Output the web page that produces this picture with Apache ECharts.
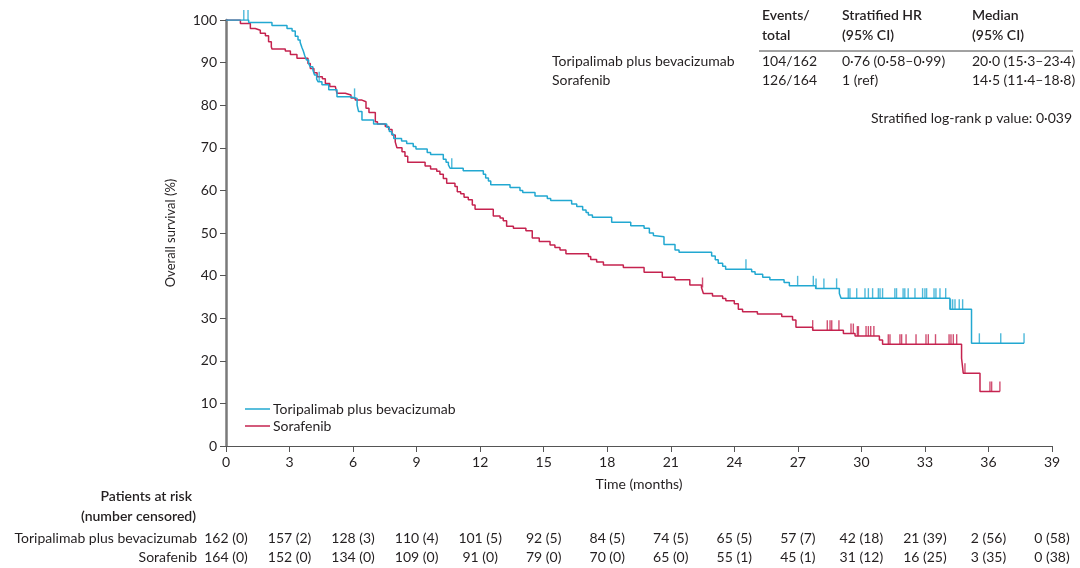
<!DOCTYPE html>
<html>
<head>
<meta charset="utf-8">
<script src="https://cdn.jsdelivr.net/npm/echarts@6/dist/echarts.min.js"></script>
<style>
html,body{margin:0;padding:0;background:#fff;}
#c{width:1080px;height:568px;}
</style>
</head>
<body>
<div id="c"></div>
<script>
// ---------- data ----------
const seriesNames = ['Toripalimab plus bevacizumab', 'Sorafenib'];

const toriCurve = [
  [0,100],[1.07,99.4],[2.17,98.7],[2.88,98.0],[3.12,97.4],[3.27,96.2],[3.40,95.3],[3.50,94.8],
  [3.58,93.6],[3.65,92.7],[3.72,91.6],[3.80,90.6],[3.90,89.8],[3.98,89.0],[4.10,88.3],[4.18,87.1],
  [4.28,86.1],[4.35,85.5],[4.53,84.8],[4.85,83.6],[5.24,82.0],[5.87,81.6],[6.19,80.0],[6.26,78.5],
  [6.42,76.5],[6.97,75.6],[7.59,74.8],[7.71,73.8],[7.82,73.2],[7.92,72.2],[8.29,71.6],[8.53,71.0],
  [8.84,70.3],[8.97,69.7],[9.50,68.9],[9.66,68.4],[10.26,67.3],[10.39,66.6],[10.50,66.0],[10.58,65.2],
  [11.20,64.6],[12.15,63.8],[12.26,62.9],[12.39,62.2],[12.50,61.3],[13.41,60.7],[13.88,60.0],[14.01,59.5],
  [14.59,58.7],[15.17,58.1],[15.33,57.6],[16.32,56.8],[16.56,56.2],[16.84,55.4],[17.00,54.8],[17.11,54.2],
  [17.30,53.7],[18.21,52.5],[19.11,51.7],[19.74,51.1],[19.99,50.0],[20.18,49.4],[20.21,49.1],[20.68,47.3],
  [21.20,46.0],[21.39,45.5],[22.93,44.6],[23.10,43.7],[23.24,42.9],[23.45,42.2],[23.59,41.5],[24.82,40.9],
  [24.98,40.3],[25.34,39.6],[25.68,39.0],[26.35,38.4],[26.60,37.6],[27.84,37.0],[28.96,35.8],[29.04,34.7],
  [34.18,32.1],[35.20,24.1],[37.68,24.1]
];
const toriCensor = [
  0.84,1.04,4.40,6.07,10.66,24.55,26.99,27.73,27.86,28.23,28.83,
  29.38,29.46,29.78,30.17,30.33,30.53,30.80,30.88,31.00,31.58,31.66,31.97,32.05,32.21,32.53,32.89,
  33.00,33.08,33.43,33.52,33.71,33.98,34.21,34.31,34.42,34.62,34.78,35.57,36.58,37.68
];

const soraCurve = [
  [0,100],[0.68,99.2],[1.15,98.0],[1.38,97.6],[1.62,96.9],[1.86,96.3],[2.01,94.9],[2.14,93.7],
  [2.17,93.2],[2.80,92.7],[3.04,91.9],[3.35,91.0],[3.87,89.8],[3.98,88.6],[4.15,87.6],[4.30,86.7],
  [4.55,86.2],[4.69,85.1],[4.90,84.4],[5.16,84.0],[5.24,82.8],[5.63,82.4],[5.90,81.7],[6.10,81.2],
  [6.42,80.8],[6.61,79.3],[6.75,78.3],[7.05,76.1],[7.15,75.6],[7.52,75.0],[7.68,74.3],[7.84,73.0],
  [7.99,71.4],[8.07,70.0],[8.31,69.1],[8.45,68.0],[8.58,66.6],[9.40,65.7],[9.66,65.0],[9.95,64.5],
  [10.10,63.8],[10.26,62.8],[10.42,61.7],[10.81,60.9],[10.92,59.7],[11.08,59.2],[11.24,58.4],[11.44,57.8],
  [11.63,56.6],[11.76,55.6],[12.62,54.0],[12.94,53.5],[13.09,52.9],[13.25,51.6],[13.57,51.1],[14.16,50.5],
  [14.46,48.8],[14.79,48.0],[15.30,47.2],[15.53,46.6],[15.77,46.0],[16.05,45.1],[17.11,44.5],[17.22,43.8],
  [17.50,43.2],[17.82,42.5],[18.76,41.9],[19.74,40.8],[20.60,39.6],[21.20,39.0],[21.90,37.8],[22.45,37.2],
  [22.54,35.8],[22.97,35.2],[23.45,34.6],[23.60,34.1],[24.00,33.4],[24.19,32.1],[24.39,31.5],[25.09,31.0],
  [26.24,30.4],[26.75,29.6],[26.91,27.9],[27.70,27.2],[29.15,26.4],[29.70,25.8],[30.85,24.9],[31.00,23.9],
  [34.73,20.6],[34.81,17.1],[35.60,12.8],[36.54,12.8]
];
const soraCensor = [
  22.50,27.70,28.39,28.52,28.60,28.94,29.51,29.62,29.81,29.86,30.22,30.33,30.44,30.59,
  31.27,31.35,31.82,31.90,32.11,32.58,33.05,33.16,33.50,34.14,34.23,34.34,34.50,34.89,36.07,36.15,36.54
];

const xTicks = [0,3,6,9,12,15,18,21,24,27,30,33,36,39];
const toriAtRisk = ['162 (0)','157 (2)','128 (3)','110 (4)','101 (5)','92 (5)','84 (5)','74 (5)','65 (5)','57 (7)','42 (18)','21 (39)','2 (56)','0 (58)'];
const soraAtRisk = ['164 (0)','152 (0)','134 (0)','109 (0)','91 (0)','79 (0)','70 (0)','65 (0)','55 (1)','45 (1)','31 (12)','16 (25)','3 (35)','0 (38)'];

const tableHeader = [['Events/','total'],['Stratified HR','(95% CI)'],['Median','(95% CI)']];
const tableRows = [
  ['Toripalimab plus bevacizumab','104/162','0·76 (0·58–0·99)','20·0 (15·3–23·4)'],
  ['Sorafenib','126/164','1 (ref)','14·5 (11·4–18·8)']
];
const pValueText = 'Stratified log-rank p value: 0·039';

// ---------- helpers ----------
function survAt(curve, t){
  let v = curve[0][1];
  for (const p of curve){ if (p[0] <= t) v = p[1]; else break; }
  return v;
}
const TEAL = '#22a8d1';
const RED = '#c5234f';
const FONT = 'Lato';
const TXT = '#231f20';

const chart = echarts.init(document.getElementById('c'));

const option = {
  animation: false,
  backgroundColor: '#fff',
  textStyle: { fontFamily: FONT, color: TXT },
  grid: { left: 226, right: 28, top: 20, bottom: 122 },
  legend: {
    data: seriesNames,
    orient: 'vertical',
    left: 240, top: 397,
    icon: 'rect',
    itemWidth: 25, itemHeight: 1.5, itemGap: 3,
    textStyle: { fontFamily: FONT, fontSize: 14, color: TXT, padding: [0,0,0,-2] }
  },
  xAxis: {
    type: 'value', min: 0, max: 39, interval: 3,
    name: 'Time (months)', nameLocation: 'middle', nameGap: 31,
    nameTextStyle: { fontFamily: FONT, fontSize: 14, color: TXT },
    axisLine: { lineStyle: { color: '#555', width: 1 } },
    axisTick: { length: 6, lineStyle: { color: '#555' } },
    axisLabel: { fontFamily: FONT, fontSize: 14, color: TXT, margin: 9 },
    splitLine: { show: false }
  },
  yAxis: {
    type: 'value', min: 0, max: 100, interval: 10,
    name: 'Overall survival (%)', nameLocation: 'middle', nameGap: 49, nameRotate: 90,
    nameTextStyle: { fontFamily: FONT, fontSize: 13, color: TXT },
    axisLine: { show: true, lineStyle: { color: '#7a7a7a', width: 2.5 } },
    axisTick: { show: true, length: 6, lineStyle: { color: '#555' } },
    axisLabel: { fontFamily: FONT, fontSize: 14, color: TXT, margin: 9 },
    splitLine: { show: false }
  },
  series: [
    { name: seriesNames[0], type: 'line', step: 'end', data: toriCurve, symbol: 'none',
      lineStyle: { color: TEAL, width: 1.5 }, itemStyle: { color: TEAL }, z: 3 },
    { name: seriesNames[1], type: 'line', step: 'end', data: soraCurve, symbol: 'none',
      lineStyle: { color: RED, width: 1.5 }, itemStyle: { color: RED }, z: 2 },
    { name: 'tori-censor', type: 'scatter', data: toriCensor.map(t => [t, survAt(toriCurve, t)]),
      symbol: 'rect', symbolSize: [1.4, 10], symbolOffset: [0, -5], itemStyle: { color: TEAL }, z: 4 },
    { name: 'sora-censor', type: 'scatter', data: soraCensor.map(t => [t, survAt(soraCurve, t)]),
      symbol: 'rect', symbolSize: [1.4, 10], symbolOffset: [0, -5], itemStyle: { color: RED }, z: 4 }
  ]
};
chart.setOption(option);

// ---------- text graphics ----------
const g = [];
const colX = [762, 842, 972];
tableHeader.forEach((h, i) => {
  g.push({ type: 'text', left: colX[i], top: 8, style: { text: h[0], font: '600 14px ' + FONT, fill: TXT } });
  g.push({ type: 'text', left: colX[i], top: 28, style: { text: h[1], font: '600 14px ' + FONT, fill: TXT } });
});
g.push({ type: 'line', shape: { x1: 759, y1: 51, x2: 1073, y2: 51 }, style: { stroke: '#444', lineWidth: 1 } });
const rowX = [552, 762, 842, 972];
tableRows.forEach((r, j) => {
  r.forEach((cell, i) => {
    g.push({ type: 'text', left: rowX[i], top: 54 + j * 19, style: { text: cell, font: '14px ' + FONT, fill: TXT } });
  });
});
g.push({ type: 'text', right: 8, top: 111, style: { text: pValueText, font: '14px ' + FONT, fill: TXT } });

// at-risk table
g.push({ type: 'text', x: 192, y: 496, style: { text: 'Patients at risk', font: '600 14px ' + FONT, fill: TXT, align: 'right', verticalAlign: 'middle' } });
g.push({ type: 'text', x: 196, y: 516, style: { text: '(number censored)', font: '600 14px ' + FONT, fill: TXT, align: 'right', verticalAlign: 'middle' } });
const riskRows = [[seriesNames[0], toriAtRisk, 538], [seriesNames[1], soraAtRisk, 557]];
riskRows.forEach(([label, vals, y]) => {
  g.push({ type: 'text', x: 197, y: y, style: { text: label, font: '14px ' + FONT, fill: TXT, align: 'right', verticalAlign: 'middle' } });
  vals.forEach((v, i) => {
    const px = chart.convertToPixel({ xAxisIndex: 0 }, xTicks[i]);
    g.push({ type: 'text', x: px, y: y, style: { text: v, font: '14px ' + FONT, fill: TXT, align: 'center', verticalAlign: 'middle' } });
  });
});
chart.setOption({ graphic: g });
</script>
</body>
</html>
